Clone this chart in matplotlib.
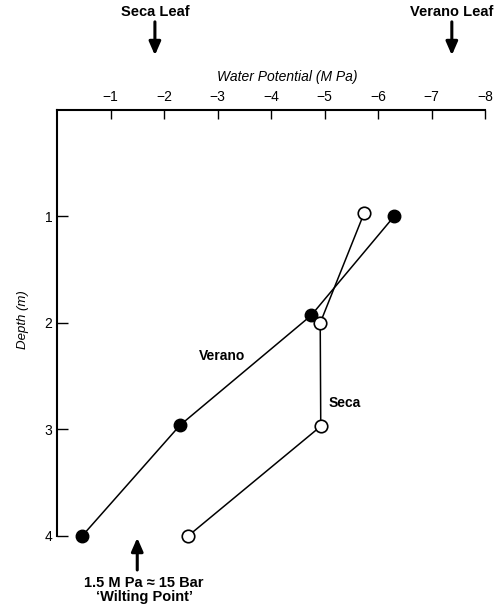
import matplotlib
matplotlib.use("Agg")
import matplotlib.pyplot as plt

plt.rcParams['font.family'] = ['Liberation Sans', 'DejaVu Sans']

# soil water potential (MPa) against depth (m)
depth_verano = [1.0, 1.93, 2.96, 4.0]
psi_verano = [-6.3, -4.75, -2.3, -0.47]
depth_seca = [0.97, 2.0, 2.97, 4.0]
psi_seca = [-5.74, -4.92, -4.93, -2.45]

x_ticks = [-1, -2, -3, -4, -5, -6, -7, -8]
y_ticks = [1, 2, 3, 4]

leaf_psi = {'Seca Leaf': -1.83, 'Verano Leaf': -7.38}
wilting_psi = -1.5

fig = plt.figure(figsize=(5.0, 6.07), dpi=100)
ax = fig.add_axes([0.114, 0.117, 0.856, 0.702])

ax.plot(psi_verano, depth_verano, '-o', color='black', lw=1.1,
        ms=9, mfc='black', mec='black', zorder=3, clip_on=False)
ax.plot(psi_seca, depth_seca, '-o', color='black', lw=1.1,
        ms=9, mfc='white', mec='black', mew=1.2, zorder=4, clip_on=False)

ax.set_xlim(0, -8)
ax.set_ylim(4, 0)
ax.set_xticks(x_ticks)
ax.set_xticklabels(['\u2212%d' % abs(v) for v in x_ticks])
ax.set_yticks(y_ticks)

ax.xaxis.tick_top()
ax.spines['bottom'].set_visible(False)
ax.spines['right'].set_visible(False)
ax.spines['top'].set_linewidth(1.5)
ax.spines['left'].set_linewidth(1.5)
ax.tick_params(axis='x', direction='in', length=6.5, width=1, pad=4, labelsize=10)
ax.tick_params(axis='y', direction='in', length=8, width=1, pad=3.5, labelsize=10)

ax.text(0.537, 1.077, 'Water Potential (M Pa)', transform=ax.transAxes,
        ha='center', va='center', style='italic', fontsize=10)
ax.text(-0.08, 0.507, 'Depth (m)', transform=ax.transAxes, rotation=90,
        ha='center', va='center', style='italic', fontsize=9.5)

ax.text(-3.08, 2.31, 'Verano', ha='center', va='center', fontweight='bold', fontsize=10)
ax.text(-5.38, 2.75, 'Seca', ha='center', va='center', fontweight='bold', fontsize=10)

arrow = dict(arrowstyle='-|>,head_length=0.8,head_width=0.35', color='black', lw=2.2,
             shrinkA=0, shrinkB=0)
for name, psi in leaf_psi.items():
    ax.annotate('', xy=(psi, 0.909), xytext=(psi, 0.964),
                xycoords=('data', 'figure fraction'),
                textcoords=('data', 'figure fraction'),
                arrowprops=arrow, annotation_clip=False)
    ax.annotate(name, xy=(psi, 0.980), xycoords=('data', 'figure fraction'),
                ha='center', va='center', fontweight='bold', fontsize=10.5,
                annotation_clip=False)

ax.annotate('', xy=(wilting_psi, 0.114), xytext=(wilting_psi, 0.061),
            xycoords=('data', 'figure fraction'),
            textcoords=('data', 'figure fraction'),
            arrowprops=arrow, annotation_clip=False)
ax.annotate('1.5 M Pa \u2248 15 Bar\n\u2018Wilting Point\u2019',
            xy=(wilting_psi - 0.13, 0.028), xycoords=('data', 'figure fraction'),
            ha='center', va='center', fontweight='bold', fontsize=10.5,
            linespacing=1.0, annotation_clip=False)

fig.savefig('out.png', dpi=100)
